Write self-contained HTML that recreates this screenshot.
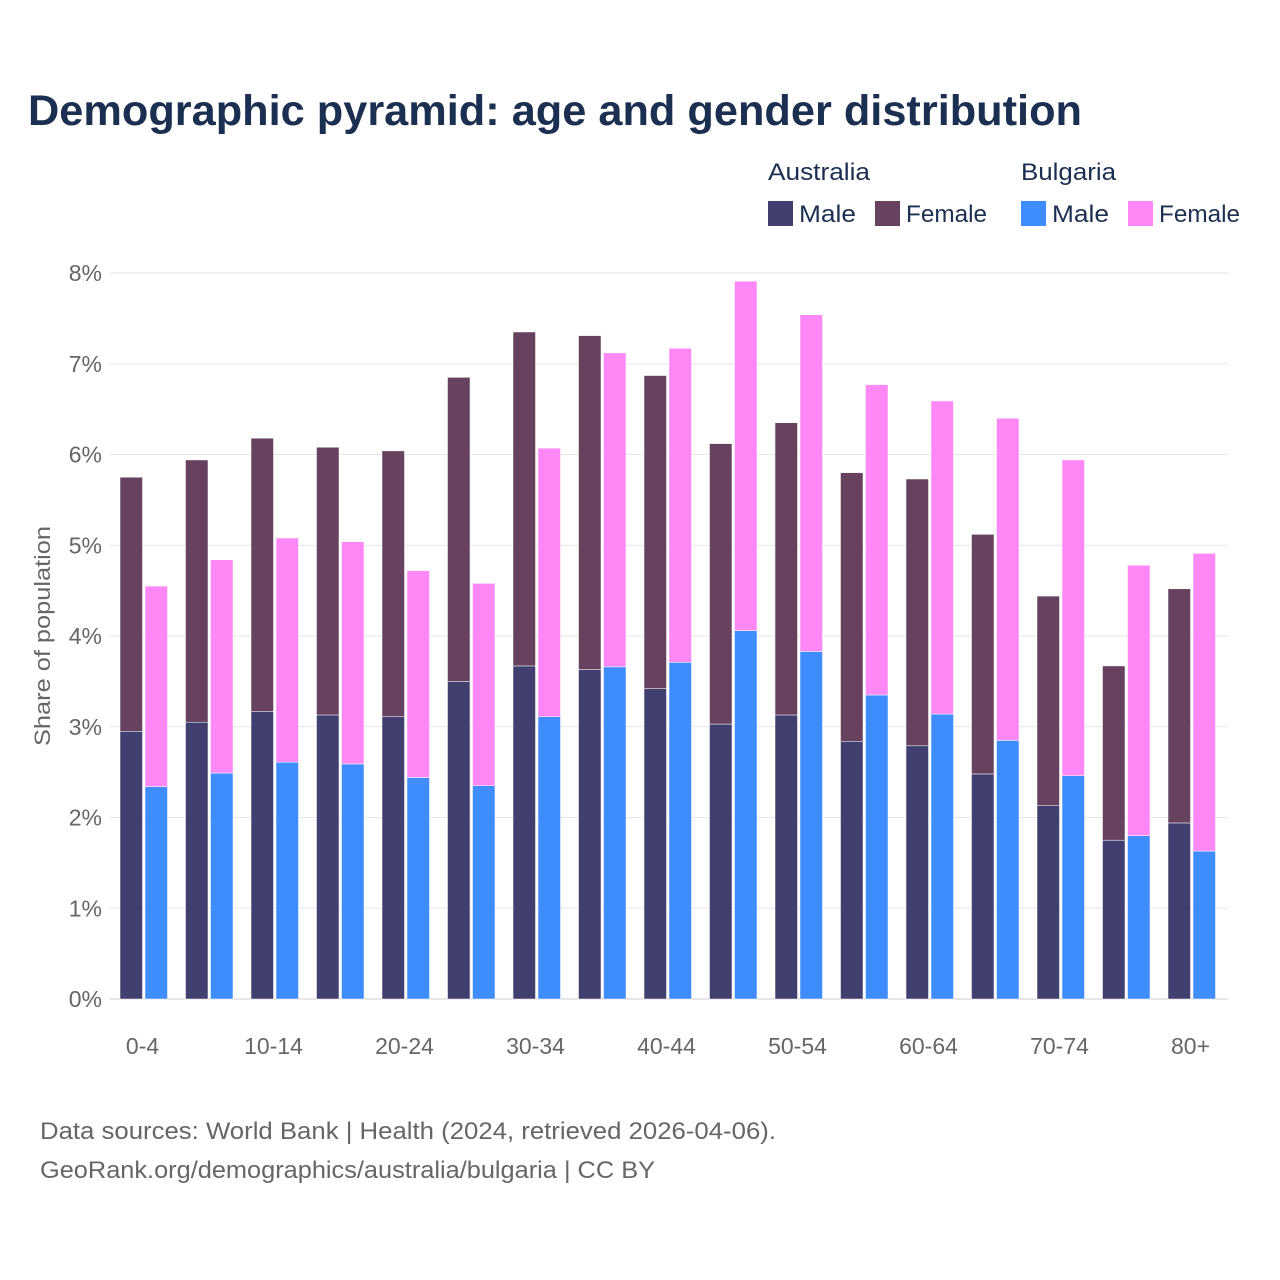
<!DOCTYPE html>
<html><head><meta charset="utf-8"><style>
body{margin:0;background:#fff;font-family:"Liberation Sans",sans-serif;}
#wrap{position:relative;width:1280px;height:1280px;overflow:hidden;}
</style></head><body>
<div id="wrap">
<svg id="chart" width="1280" height="1280" xmlns="http://www.w3.org/2000/svg">
<text x="28" y="125" font-size="43" font-weight="bold" fill="#1b2f50" textLength="1054" lengthAdjust="spacingAndGlyphs">Demographic pyramid: age and gender distribution</text>
<g font-size="24" fill="#1b2f50">
<text x="768" y="180" textLength="102" lengthAdjust="spacingAndGlyphs">Australia</text>
<text x="1021" y="180" textLength="95" lengthAdjust="spacingAndGlyphs">Bulgaria</text>
<rect x="768" y="201" width="25" height="25" fill="#413f70"/>
<text x="799" y="222" textLength="57" lengthAdjust="spacingAndGlyphs">Male</text>
<rect x="875" y="201" width="25" height="25" fill="#66425f"/>
<text x="906" y="222" textLength="81" lengthAdjust="spacingAndGlyphs">Female</text>
<rect x="1021" y="201" width="25" height="25" fill="#3f8cff"/>
<text x="1052" y="222" textLength="57" lengthAdjust="spacingAndGlyphs">Male</text>
<rect x="1128" y="201" width="25" height="25" fill="#ff88f6"/>
<text x="1159" y="222" textLength="81" lengthAdjust="spacingAndGlyphs">Female</text>
</g>
<g id="grid"></g><g id="bars"></g><g id="xaxis"></g>
<text transform="translate(50,636) rotate(-90)" text-anchor="middle" font-size="22" fill="#666" textLength="220" lengthAdjust="spacingAndGlyphs">Share of population</text>
<text x="40" y="1139" font-size="24" fill="#666" textLength="736" lengthAdjust="spacingAndGlyphs">Data sources: World Bank | Health (2024, retrieved 2026-04-06).</text>
<text x="40" y="1178" font-size="24" fill="#666" textLength="615" lengthAdjust="spacingAndGlyphs">GeoRank.org/demographics/australia/bulgaria | CC BY</text>
</svg>
</div>
<script>
const categories=["0-4","5-9","10-14","15-19","20-24","25-29","30-34","35-39","40-44","45-49","50-54","55-59","60-64","65-69","70-74","75-79","80+"];
const auMale=[2.95,3.05,3.17,3.13,3.11,3.50,3.67,3.63,3.42,3.03,3.13,2.84,2.79,2.48,2.13,1.75,1.94];
const auTotal=[5.75,5.94,6.18,6.08,6.04,6.85,7.35,7.31,6.87,6.12,6.35,5.80,5.73,5.12,4.44,3.67,4.52];
const bgMale=[2.34,2.49,2.61,2.59,2.44,2.35,3.11,3.66,3.71,4.06,3.83,3.35,3.14,2.85,2.46,1.80,1.63];
const bgTotal=[4.55,4.84,5.08,5.04,4.72,4.58,6.07,7.12,7.17,7.91,7.54,6.77,6.59,6.40,5.94,4.78,4.91];
const yTicks=[0,1,2,3,4,5,6,7,8];
const xLabelShown=["0-4","10-14","20-24","30-34","40-44","50-54","60-64","70-74","80+"];
const NS="http://www.w3.org/2000/svg";
const y=v=>999-v*90.75;
const xc=i=>143.5+65.5*i;
function mk(tag,attrs,parent){const e=document.createElementNS(NS,tag);for(const k in attrs)e.setAttribute(k,attrs[k]);parent.appendChild(e);return e;}
const grid=document.getElementById('grid'),bars=document.getElementById('bars'),xa=document.getElementById('xaxis');
yTicks.forEach(t=>{
  const l=mk('line',{x1:110,x2:1228,y1:y(t),y2:y(t),stroke:t===0?'#ccc':'#e6e6e6','stroke-width':1},grid);
  
  
  const tx=mk('text',{x:102,y:y(t)+8,'text-anchor':'end','font-size':23,fill:'#666'},grid);
  tx.textContent=t+'%';
  
  
});
categories.forEach((c,i)=>{
  const cx=xc(i);
  const segs=[[cx-23.5,0,auMale[i],'#413f70','au-male'],[cx-23.5,auMale[i],auTotal[i],'#66425f','au-female'],[cx+1.5,0,bgMale[i],'#3f8cff','bg-male'],[cx+1.5,bgMale[i],bgTotal[i],'#ff88f6','bg-female']];
  segs.forEach(s=>{
    const r=mk('rect',{x:s[0],y:y(s[2]),width:22.5,height:y(s[1])-y(s[2]),fill:s[3],stroke:'#fff','stroke-width':0.5},bars);
    
    
  });
  if(xLabelShown.includes(c)){
    const t=mk('text',{x:cx-1,y:1054,'text-anchor':'middle','font-size':23,fill:'#666'},xa);
    t.textContent=c;
    
    
  }
});
</script>
</body></html>
